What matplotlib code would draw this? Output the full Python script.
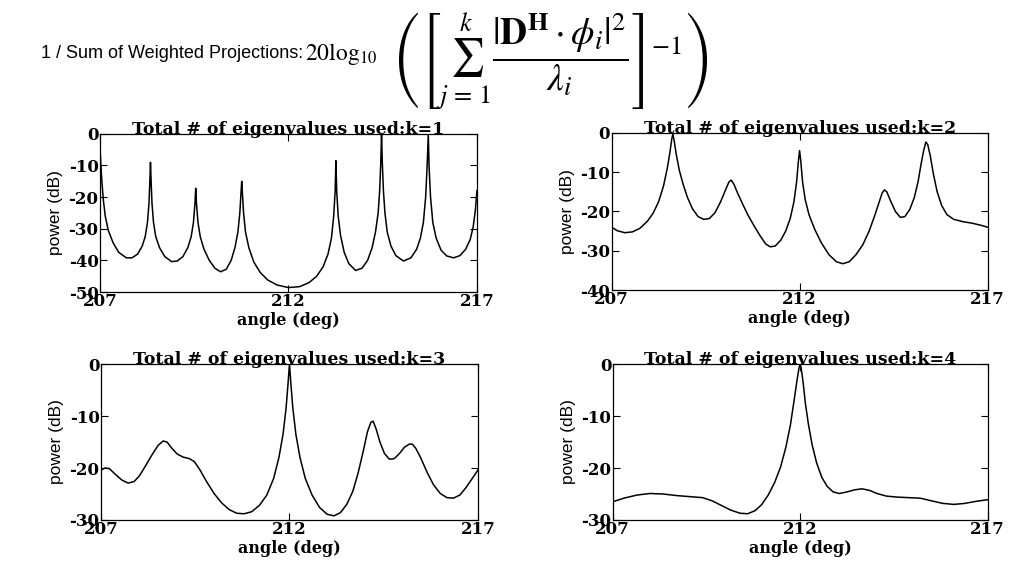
import matplotlib.pyplot as plt

plt.rcParams['mathtext.fontset'] = 'stix'
plt.rcParams['axes.unicode_minus'] = False

# angle (deg) / power (dB)
ang_k1 = [207.00, 207.02, 207.05, 207.09, 207.14, 207.22, 207.35, 207.50, 207.70, 207.85,
          208.00, 208.12, 208.20, 208.26, 208.30, 208.32, 208.34, 208.36, 208.38, 208.42,
          208.48, 208.58, 208.72, 208.90, 209.05, 209.20, 209.33, 209.42, 209.48, 209.52,
          209.54, 209.56, 209.60, 209.66, 209.76, 209.90, 210.05, 210.20, 210.35, 210.48,
          210.58, 210.66, 210.71, 210.74, 210.76, 210.78, 210.81, 210.86, 210.95, 211.08,
          211.25, 211.45, 211.70, 212.00, 212.30, 212.55, 212.75, 212.92, 213.05, 213.14,
          213.20, 213.24, 213.26, 213.28, 213.32, 213.38, 213.48, 213.60, 213.78, 213.95,
          214.10, 214.22, 214.31, 214.38, 214.42, 214.45, 214.47, 214.49, 214.52, 214.56,
          214.62, 214.72, 214.85, 215.05, 215.25, 215.40, 215.50, 215.58, 215.64, 215.68,
          215.71, 215.73, 215.77, 215.83, 215.92, 216.05, 216.20, 216.38, 216.55, 216.70,
          216.82, 216.90, 216.96, 217.00]
pow_k1 = [-4, -9, -15, -21, -26, -30.5, -34.5, -37.5, -39.2, -39.2,
          -38, -35.5, -32.5, -28, -22, -16, -9, -16, -22, -28,
          -32.5, -36, -38.8, -40.4, -40.2, -38.8, -36, -32.5, -28, -22,
          -17.2, -22, -28, -32.5, -36.5, -40, -42.5, -43.6, -42.8, -40,
          -36, -31, -25, -19, -15, -19, -25, -31, -36, -40.5,
          -43.8, -46.2, -47.8, -48.6, -48.3, -47, -45, -42, -38, -33,
          -26, -18, -8.5, -18, -26, -32, -37.5, -41, -43.2, -42.5,
          -40, -36, -31, -25, -18, -9, 0, -9, -18, -25,
          -31, -35.5, -38.5, -40.2, -39.2, -36.5, -33, -28, -20, -10,
          0, -10, -20, -28, -33, -36.8, -38.6, -39.2, -38.5, -36.5,
          -33.5, -29.5, -24, -18]

ang_k2 = [207.00, 207.15, 207.35, 207.55, 207.75, 207.95, 208.10, 208.25, 208.38, 208.48,
          208.55, 208.60, 208.63, 208.66, 208.72, 208.80, 208.90, 209.02, 209.15, 209.30,
          209.45, 209.60, 209.75, 209.90, 210.03, 210.12, 210.18, 210.25, 210.35, 210.48,
          210.62, 210.78, 210.95, 211.10, 211.22, 211.35, 211.50, 211.63, 211.75, 211.85,
          211.92, 211.97, 212.00, 212.03, 212.08, 212.15, 212.25, 212.40, 212.58, 212.78,
          212.98, 213.15, 213.32, 213.50, 213.68, 213.85, 214.00, 214.12, 214.20, 214.26,
          214.32, 214.42, 214.55, 214.68, 214.80, 214.93, 215.05, 215.15, 215.23, 215.30,
          215.36, 215.41, 215.48, 215.56, 215.66, 215.78, 215.92, 216.10, 216.35, 216.60,
          216.82, 217.00]
pow_k2 = [-24, -24.9, -25.4, -25.2, -24.3, -22.5, -20.5, -17.5, -13.5, -9,
          -5, -1.5, -0.3, -1.8, -5.5, -9.5, -13, -16.5, -19.3, -21.3,
          -22, -21.8, -20.3, -17.5, -14.5, -12.5, -12, -13, -15.3, -18,
          -20.8, -23.5, -26.2, -28.3, -29, -28.8, -27.3, -25, -21.8, -17.5,
          -12.5, -7, -4.5, -7, -12.5, -17, -20.8, -24.5, -28, -31,
          -32.8, -33.3, -32.8, -31, -28.5, -25, -21, -17.5, -15.2, -14.5,
          -15, -17.3, -20, -21.5, -21.3, -19.5, -16.5, -12.5, -8, -4.5,
          -2.3, -3, -6, -10.5, -15, -18.5, -20.8, -22, -22.6, -23,
          -23.5, -24]

ang_k3 = [207.00, 207.10, 207.22, 207.38, 207.55, 207.72, 207.88, 208.02, 208.18, 208.35,
          208.52, 208.65, 208.75, 208.88, 209.02, 209.18, 209.35, 209.48, 209.62, 209.80,
          210.00, 210.20, 210.40, 210.60, 210.80, 211.00, 211.20, 211.40, 211.58, 211.72,
          211.83, 211.91, 211.96, 212.00, 212.04, 212.09, 212.17, 212.28, 212.42, 212.60,
          212.80, 213.00, 213.18, 213.35, 213.52, 213.68, 213.82, 213.95, 214.07, 214.16,
          214.22, 214.30, 214.40, 214.52, 214.65, 214.78, 214.92, 215.05, 215.18, 215.26,
          215.35, 215.48, 215.65, 215.82, 216.00, 216.18, 216.35, 216.52, 216.68, 216.85,
          217.00]
pow_k3 = [-20.4, -20, -20.1, -21.2, -22.3, -22.9, -22.6, -21.5, -19.6, -17.5,
          -15.6, -14.8, -15, -16.2, -17.3, -17.9, -18.2, -18.8, -20.3, -22.6,
          -24.9, -26.7, -28, -28.7, -28.8, -28.4, -27.2, -25.2, -22, -18,
          -13.5, -8.5, -4, 0, -4, -8.5, -13.5, -18, -22, -25.2,
          -27.6, -28.9, -29.2, -28.6, -27, -24.5, -21, -17, -13, -11.2,
          -11, -12.5, -15, -17.2, -18.3, -18.2, -17.2, -16, -15.4, -15.4,
          -16.2, -18, -20.8, -23.2, -24.9, -25.7, -25.8, -25.2, -23.8, -22,
          -20.4]

ang_k4 = [207.00, 207.30, 207.65, 208.00, 208.35, 208.70, 209.05, 209.40, 209.65, 209.90,
          210.15, 210.40, 210.60, 210.80, 210.98, 211.15, 211.32, 211.48, 211.62, 211.74,
          211.84, 211.92, 211.97, 212.00, 212.03, 212.08, 212.14, 212.22, 212.32, 212.44,
          212.58, 212.72, 212.88, 213.05, 213.25, 213.45, 213.65, 213.85, 214.05, 214.30,
          214.60, 214.90, 215.20, 215.50, 215.80, 216.10, 216.40, 216.70, 217.00]
pow_k4 = [-26.5, -25.8, -25.2, -24.9, -25, -25.3, -25.5, -25.7, -26.3, -27.2,
          -28.1, -28.7, -28.8, -28.2, -27, -25.2, -22.8, -19.8, -16, -11.8,
          -7, -3, -0.8, 0, -0.8, -3.5, -7.5, -11.5, -15.5, -19,
          -21.8, -23.5, -24.6, -24.9, -24.6, -24.2, -24, -24.3, -24.9, -25.4,
          -25.6, -25.7, -25.8, -26.3, -26.8, -27, -26.8, -26.4, -26.1]

ks = [1, 2, 3, 4]
angles = [ang_k1, ang_k2, ang_k3, ang_k4]
powers = [pow_k1, pow_k2, pow_k3, pow_k4]
ymins = [-50, -40, -30, -30]
xticks = [207, 212, 217]

serif = ['DejaVu Serif']
narrow = ['Liberation Sans Narrow', 'Liberation Sans', 'DejaVu Sans']

fig = plt.figure(figsize=(10.16, 5.67), dpi=100)

boxes = [
    [0.0984, 0.485, 0.371, 0.279],
    [0.602, 0.4885, 0.370, 0.277],
    [0.0994, 0.0829, 0.371, 0.275],
    [0.603, 0.0829, 0.369, 0.275],
]

for i in range(4):
    ax = fig.add_axes(boxes[i])
    ax.plot(angles[i], powers[i], color='black', lw=1.1)
    ax.set_xlim(207, 217)
    ax.set_ylim(ymins[i], 0)
    ax.set_xticks(xticks)
    ax.set_yticks(list(range(ymins[i], 1, 10)))
    ax.tick_params(direction='in', top=True, right=True, length=5, width=0.8, pad=1)
    for lab in ax.get_xticklabels() + ax.get_yticklabels():
        lab.set_family(serif)
        lab.set_fontweight('bold')
        lab.set_fontsize(12)
    for s in ax.spines.values():
        s.set_linewidth(0.9)
    ax.set_title('Total # of eigenvalues used:k=%d' % ks[i], family=serif,
                 fontweight='bold', fontsize=12.5, pad=0)
    ax.set_xlabel('angle (deg)', family=serif, fontweight='bold', fontsize=11.5, labelpad=1)
    ax.set_ylabel('power (dB)', family=narrow, fontsize=12.5, labelpad=4)

fig.text(0.040, 0.905, '1 / Sum of Weighted Projections:', family=['Liberation Sans', 'DejaVu Sans'],
         fontsize=13, va='center')
fig.text(0.300, 0.905, r'$20\log_{10}$', fontsize=17, va='center')
fig.text(0.385, 0.892,
         r'$\left(\left[\sum_{j\,=\,1}^{k}\dfrac{|\mathbf{D}^{\mathbf{H}}\cdot\phi_{i}|^{2}}{\lambda_{i}}\right]^{-1}\right)$',
         fontsize=27, va='center')

fig.savefig('out.png', dpi=100)
